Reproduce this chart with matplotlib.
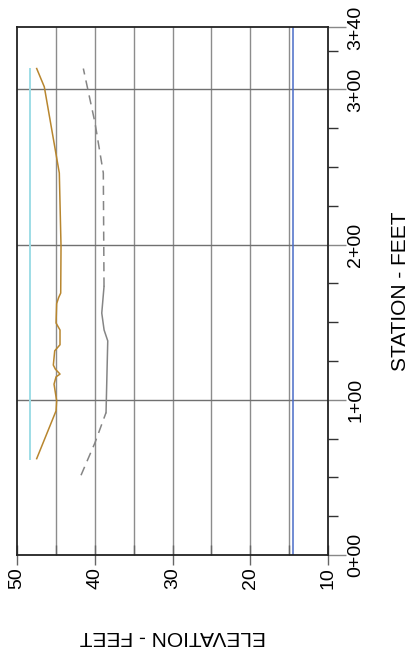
import numpy as np
import matplotlib
matplotlib.use('Agg')
import matplotlib.pyplot as plt
from matplotlib.ticker import MultipleLocator, FixedLocator

plt.rcParams['font.family'] = ['Liberation Sans', 'DejaVu Sans']

# profile data: station (ft) and elevation (ft)
water_sta = [62, 313.5]
water_elev = [48.3, 48.3]

wall_sta = [62.1, 92.9, 99.4, 110.1, 114.8, 116.6, 119.8, 122.4, 131.6, 135.5,
            145, 149.5, 162, 166, 168.8, 198.9, 246.2, 301.7, 313.5]
wall_elev = [47.47, 44.98, 44.9, 45.24, 44.98, 44.47, 45.07, 45.33, 45.15, 44.47,
             44.47, 44.98, 44.9, 44.64, 44.38, 44.34, 44.56, 46.49, 47.47]

ground_sta = [51.4, 72.4, 91.8, 138, 145, 155.9, 173, 246.2, 278.5, 313.5]
ground_elev = [41.77, 39.97, 38.55, 38.33, 38.8, 39.1, 38.81, 38.9, 39.97, 41.47]
surveyed = (91.8, 173)   # solid between these stations, dashed outside

bottom_sta = [0, 340]
bottom_elev = [14.55, 14.55]

sta_ticks = [0, 100, 200, 300, 340]
sta_labels = ['%d+%02d' % (s // 100, s % 100) for s in sta_ticks]
elev_ticks = [50, 40, 30, 20, 10]

fig = plt.figure(figsize=(4.09, 6.62), dpi=100)
ax = fig.add_axes([0.0416, 0.1616, 0.7604, 0.797])

# chart is laid out sideways: elevation across, station up the page
ax.set_xlim(50, 10)
ax.set_ylim(0, 340)

grid_c = '#8c8c8c'
for e in np.arange(15, 50, 5):
    ax.axvline(e, color=grid_c, lw=1.0, zorder=1)
for s in [100, 200, 300]:
    ax.axhline(s, color='#707070', lw=1.0, zorder=1)

ax.plot(water_elev, water_sta, color='#9edde6', lw=1.4, zorder=3)
ax.plot(bottom_elev, bottom_sta, color='#4a6cc8', lw=1.1, zorder=3)
ax.plot(wall_elev, wall_sta, color='#b8862e', lw=1.1, zorder=4)

gs = np.array(ground_sta)
ge = np.array(ground_elev)
mid = (gs >= surveyed[0]) & (gs <= surveyed[1])
lo = gs <= surveyed[0]
hi = gs >= surveyed[1]
ax.plot(ge[mid], gs[mid], color='#858585', lw=1.1, zorder=3)
ax.plot(ge[lo], gs[lo], color='#858585', lw=1.1, ls=(0, (6, 4)), zorder=3)
ax.plot(ge[hi], gs[hi], color='#858585', lw=1.1, ls=(0, (6, 4)), zorder=3)

for sp in ax.spines.values():
    sp.set_color('#222222')
    sp.set_linewidth(1.3)
    sp.set_zorder(5)

# elevation axis along the bottom
ax.xaxis.set_major_locator(FixedLocator(elev_ticks))
ax.xaxis.set_minor_locator(MultipleLocator(5))
ax.tick_params(axis='x', which='major', direction='inout', length=14, width=1.0,
               color='#666666', labelsize=14, labelrotation=90, pad=2)
ax.tick_params(axis='x', which='minor', direction='in', length=7, width=1.0,
               color='#666666')

# station axis on the right
ax.yaxis.tick_right()
ax.yaxis.set_label_position('right')
ax.set_yticks(sta_ticks)
ax.set_yticklabels(sta_labels, rotation=90, va='center')
ax.yaxis.set_minor_locator(FixedLocator([25, 50, 75, 125, 150, 175, 225, 250, 275, 325]))
ax.tick_params(axis='y', which='major', direction='out', length=13, width=1.0,
               color='#888888', labelsize=14, pad=1)
ax.tick_params(axis='y', which='minor', direction='out', length=7, width=1.0,
               color='#333333')

ax.set_ylabel('STATION - FEET', fontsize=15, rotation=90, labelpad=19)
ax.set_xlabel('ELEVATION - FEET', fontsize=15, rotation=180, labelpad=27)

fig.savefig('out.png', dpi=100)
